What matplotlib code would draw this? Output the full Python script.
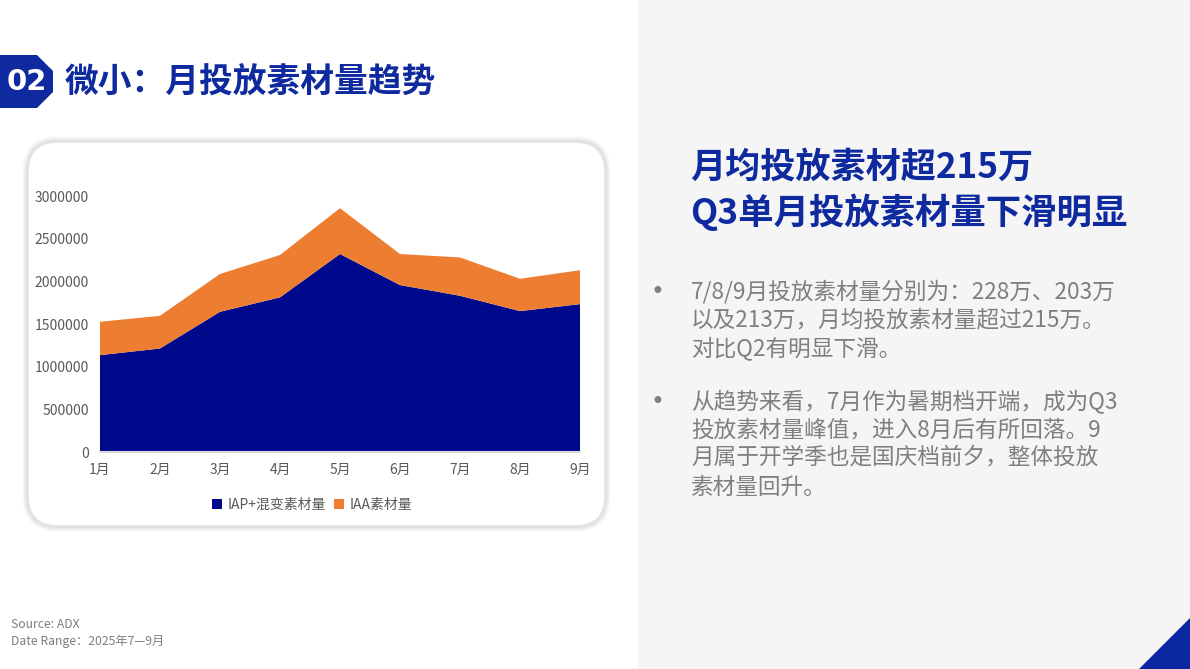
import matplotlib
matplotlib.use("Agg")
import matplotlib.pyplot as plt
from matplotlib.patches import FancyBboxPatch, Polygon, Rectangle, Patch
from matplotlib.ticker import FuncFormatter

plt.rcParams['font.family'] = ['Noto Sans CJK SC', 'DejaVu Sans']

# ---- data ----
months = ["1月", "2月", "3月", "4月", "5月", "6月", "7月", "8月", "9月"]
iap_mixed = [1135000, 1213000, 1643000, 1812000, 2320000, 1956000, 1831000, 1651000, 1733000]
iaa = [391000, 383000, 443000, 497000, 537000, 364000, 449000, 379000, 397000]
series_names = ["IAP+混变素材量", "IAA素材量"]
yticks = [0, 500000, 1000000, 1500000, 2000000, 2500000, 3000000]

title = "微小：月投放素材量趋势"
badge = "02"
headline = ["月均投放素材超215万", "Q3单月投放素材量下滑明显"]
bullet1 = ["7/8/9月投放素材量分别为：228万、203万", "以及213万，月均投放素材量超过215万。", "对比Q2有明显下滑。"]
bullet2 = ["从趋势来看，7月作为暑期档开端，成为Q3", "投放素材量峰值，进入8月后有所回落。9", "月属于开学季也是国庆档前夕，整体投放", "素材量回升。"]
footer = ["Source: ADX", "Date Range：2025年7—9月"]

BLUE = "#00098C"
ORANGE = "#ED7D31"
DARK = "#0E2A9E"
GRAY = "#7F7F7F"

W, H = 1190, 669
fig = plt.figure(figsize=(W / 100, H / 100), dpi=100)
fig.patch.set_facecolor("white")

# background drawing axes in pixel coords
bg = fig.add_axes([0, 0, 1, 1])
bg.set_xlim(0, W)
bg.set_ylim(H, 0)
bg.axis("off")
bg.set_zorder(0)

bg.add_patch(Rectangle((638, 0), W - 638, H, facecolor="#F5F5F5", edgecolor="none"))
bg.add_patch(Polygon([(1139, H), (W, 618), (W, H)], closed=True, facecolor="#0B28A0", edgecolor="none"))

# badge
bg.add_patch(Polygon([(0, 55), (37, 55), (53, 71), (53, 92), (37, 108), (0, 108)], closed=True,
                     facecolor=DARK, edgecolor="none"))
bg.text(27, 82, badge, color="white", fontsize=21, fontweight="bold", ha="center", va="center",
        family=["DejaVu Sans"])
bg.text(65, 82, title, color=DARK, fontsize=24.3, fontweight="bold", ha="left", va="center")

# card with soft shadow
cx0, cy0, cx1, cy1 = 28, 142, 605, 526
for i, a in enumerate([0.03, 0.04, 0.05, 0.05, 0.06, 0.07]):
    g = 6 - i
    bg.add_patch(FancyBboxPatch((cx0 - g, cy0 - g), (cx1 - cx0) + 2 * g, (cy1 - cy0) + 2 * g,
                                boxstyle=f"round,pad=0,rounding_size={30 + g}",
                                facecolor="#808080", edgecolor="none", alpha=a))
bg.add_patch(FancyBboxPatch((cx0, cy0), cx1 - cx0, cy1 - cy0,
                            boxstyle="round,pad=0,rounding_size=30",
                            facecolor="white", edgecolor="#E4E4E4", linewidth=1.2))

# headline
bg.text(690, 167, headline[0], color=DARK, fontsize=25.3, fontweight="bold", ha="left", va="center")
bg.text(690, 212, headline[1], color=DARK, fontsize=25.5, fontweight="bold", ha="left", va="center")

# bullets
def bullet(lines, ys):
    bg.text(657, ys[0], "•", color=GRAY, fontsize=17, ha="center", va="center",
            family=["DejaVu Sans"])
    for ln, y in zip(lines, ys):
        bg.text(691, y, ln, color=GRAY, fontsize=16.3, ha="left", va="center")

bullet(bullet1, [292, 320, 348])
bullet(bullet2, [402, 430, 458, 487])

# footer
bg.text(11, 625, footer[0], color=GRAY, fontsize=8.8, ha="left", va="center")
bg.text(11, 641, footer[1], color=GRAY, fontsize=8.8, ha="left", va="center")

# chart axes
x0, x1, ytop, ybot = 100, 580, 196, 452
ax = fig.add_axes([x0 / W, 1 - ybot / H, (x1 - x0) / W, (ybot - ytop) / H])
ax.set_zorder(2)
ax.patch.set_alpha(0)
xs = list(range(len(months)))
ax.stackplot(xs, iap_mixed, iaa, colors=[BLUE, ORANGE], labels=series_names, linewidth=0)
ax.set_xlim(0, len(months) - 1)
ax.set_ylim(0, 3000000)
ax.set_yticks(yticks)
ax.yaxis.set_major_formatter(FuncFormatter(lambda v, p: f"{int(v)}"))
ax.set_xticks(xs)
ax.set_xticklabels(months)
ax.tick_params(axis="y", length=0, pad=8, labelsize=10, labelcolor="#595959")
ax.tick_params(axis="x", length=0, pad=8, labelsize=10, labelcolor="#595959")
for s in ["top", "right", "left"]:
    ax.spines[s].set_visible(False)
ax.spines["bottom"].set_color("#D9D9D9")
ax.spines["bottom"].set_linewidth(1.5)

handles = [Patch(facecolor=BLUE, edgecolor="none"), Patch(facecolor=ORANGE, edgecolor="none")]
fig.legend(handles, series_names, loc="center", bbox_to_anchor=(312 / W, 1 - 505 / H),
           ncol=2, frameon=False, fontsize=10, labelcolor="#595959",
           handlelength=0.75, handleheight=0.75, handletextpad=0.35, columnspacing=0.6)

fig.savefig("out.png", dpi=100)
